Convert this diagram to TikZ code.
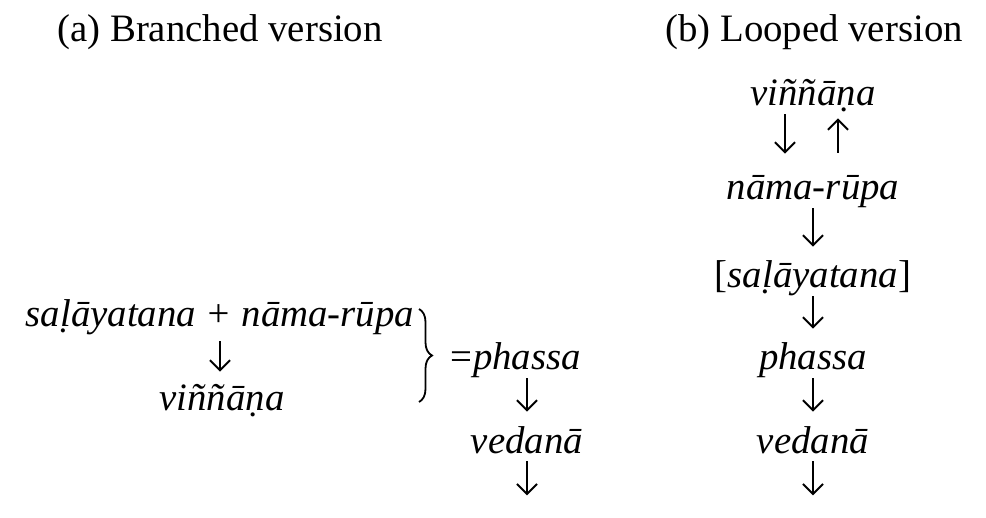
\documentclass[tikz,border=0pt]{standalone}
\usepackage{fontspec}
\setmainfont{Liberation Serif}
\usetikzlibrary{positioning, arrows.meta, decorations.pathreplacing}
\newcommand\diagfont{\fontsize{19.4}{23}\selectfont}
\tikzstyle{title} = [inner sep=0pt, font=\diagfont]
\tikzstyle{word} = [inner sep=0pt, anchor=base, text height=13pt, text depth=4pt, font=\diagfont\itshape]
\tikzstyle{arrow} = [line width=1pt, ->, >={Straight Barb[length=5pt,width=10pt]}, shorten >=7.5pt]
\tikzstyle{brace} = [line width=0.9pt, decorate, decoration={brace, amplitude=6.5pt}]

\begin{document}
\begin{tikzpicture}[x=0.5pt, y=-0.5pt]
\useasboundingbox (0,0) rectangle (986,518);

% titles
\node (ta) [title, anchor=base west] at (57,42) {(a) Branched version};
\node (tb) [title, anchor=base west] at (665,42) {(b) Looped version};

% (a) branched
\node (lsal) [word] at (220,327) {saḷāyatana + nāma-rūpa};
\node (lvin) [word] at (222,411) {viññāṇa};
\draw [arrow, shorten <=3pt, shorten >=6.5pt] (lsal.south -| 220,0) -- (lvin.north -| 220,0);
\coordinate (btop) at (419,309);
\coordinate (bbot) at (419,402);
\draw [brace] (btop) -- (bbot);
\node (lpha) [word] at (527,370) {phassa};
\node (leq) [word, font=\diagfont, left=0pt of lpha] {=};
\node (lved) [word] at (527,453) {vedanā};
\coordinate [below=17pt of lved] (lend);
\draw [arrow] (lpha) -- (lved);
\draw [arrow, shorten >=0pt] (lved) -- (lend);

% (b) looped
\node (rvin) [word] at (813,106) {viññāṇa};
\node (rnama) [word] at (813,200) {nāma-rūpa};
\node (rsal) [word] at (813,288) {{\upshape[}saḷāyatana{\upshape]}};
\node (rpha) [word] at (813,370) {phassa};
\node (rved) [word] at (813,453) {vedanā};
\coordinate [below=17pt of rved] (rend);
\draw [arrow, shorten >=10pt] ([xshift=-14pt]rvin.south) -- ([xshift=-14pt]rnama.north);
\draw [arrow, shorten >=2pt, shorten <=10.5pt] ([xshift=12.5pt]rnama.north) -- ([xshift=12.5pt]rvin.south);
\draw [arrow] (rnama) -- (rsal);
\draw [arrow] (rsal) -- (rpha);
\draw [arrow] (rpha) -- (rved);
\draw [arrow, shorten >=0pt] (rved) -- (rend);

\end{tikzpicture}
\end{document}
